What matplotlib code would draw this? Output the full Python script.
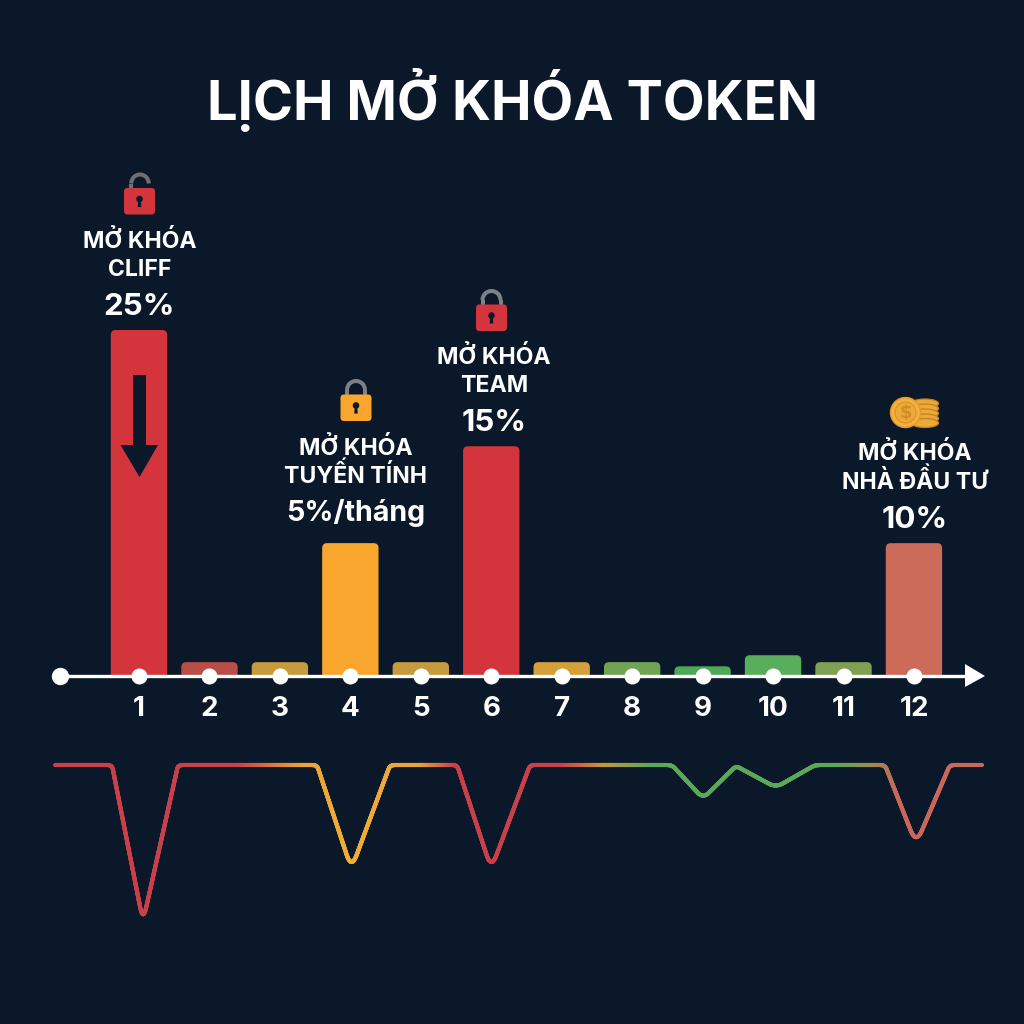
import numpy as np
import matplotlib
matplotlib.use("Agg")
import matplotlib.pyplot as plt
from matplotlib.collections import LineCollection
from matplotlib.colors import to_rgb
from matplotlib.patches import Circle, Ellipse, FancyBboxPatch, PathPatch, Polygon, Arc
from matplotlib.path import Path

FONT = ["Inter", "Noto Sans", "DejaVu Sans"]
plt.rcParams["font.family"] = FONT

# ---------- data ----------
months = list(range(1, 13))
month_labels = [str(m) for m in months]
bar_heights = [25.0, 1.0, 1.0, 9.6, 1.0, 16.6, 1.0, 1.0, 0.7, 1.5, 1.0, 9.6]
bar_colors = ["#D4353C", "#B94E49", "#C69B3D", "#F9A62E", "#C69B3D", "#D4353C",
              "#D3A03A", "#6FA453", "#4EA858", "#58AE5B", "#7F9F52", "#CC6B59"]

line_months = [-0.19, 0.617, 1.057, 1.554, 3.527, 4.015, 4.563, 5.515, 6.0, 6.55,
               8.566, 9.006, 9.474, 10.04, 10.595, 11.589, 12.03, 12.51, 12.966]
line_vals = [6.44, 6.44, 17.75, 6.44, 6.44, 13.95, 6.44, 6.44, 13.95, 6.44,
             6.44, 8.85, 6.5, 8.05, 6.44, 6.44, 12.15, 6.44, 6.44]
grad_months = [-0.19, 2.4, 3.3, 4.0, 5.0, 5.5, 7.0, 7.6, 8.3, 10.9, 11.45, 11.75, 13.0]
grad_colors = ["#C8414A", "#C8414A", "#E8A23A", "#F0AE38", "#E8A23A", "#C8414A",
               "#C8414A", "#C8963C", "#5BA858", "#5BA858", "#A08A50", "#C8675A", "#C8675A"]

title = "LỊCH MỞ KHÓA TOKEN"
callouts = [
    (139.5, ["MỞ KHÓA", "CLIFF"], "25%", 248, 276, 315, 22.5),
    (356, ["MỞ KHÓA", "TUYẾN TÍNH"], "5%/tháng", 455, 483, 521, 20.6),
    (494, ["MỞ KHÓA", "TEAM"], "15%", 364, 392, 431, 22.5),
    (914.5, ["MỞ KHÓA", "NHÀ ĐẦU TƯ"], "10%", 460, 489, 528, 22.5),
]

BG = "#0A182A"
PX_PER_MONTH = 70.45
PX_PER_UNIT = 13.84


def rounded_top(x, w, h, rx=0.07, ry=0.36):
    ry = min(ry, h)
    l, r = x - w / 2, x + w / 2
    verts = [(l, 0), (l, h - ry), (l, h), (l + rx, h), (r - rx, h), (r, h), (r, h - ry), (r, 0), (l, 0)]
    codes = [Path.MOVETO, Path.LINETO, Path.CURVE3, Path.CURVE3, Path.LINETO,
             Path.CURVE3, Path.CURVE3, Path.LINETO, Path.CLOSEPOLY]
    return Path(verts, codes)


def rounded_polyline(xs, ys):
    """Round each corner of the polyline with a quadratic curve (working in pixels)."""
    P = np.column_stack([np.array(xs) * PX_PER_MONTH, np.array(ys) * PX_PER_UNIT])
    out = [P[0]]
    for i in range(1, len(P) - 1):
        a, b, c = P[i - 1], P[i], P[i + 1]
        is_dip = b[1] < a[1] and b[1] < c[1]
        depth = min(a[1] - b[1], c[1] - b[1]) if is_dip else 0
        d = 15 if depth > 40 else (8 if depth > 5 else 4)
        u = (a - b) / np.linalg.norm(a - b)
        v = (c - b) / np.linalg.norm(c - b)
        s, e = b + u * d, b + v * d
        for t in np.linspace(0, 1, 16):
            out.append((1 - t) ** 2 * s + 2 * t * (1 - t) * b + t ** 2 * e)
    out.append(P[-1])
    out = np.array(out)
    return out[:, 0] / PX_PER_MONTH, out[:, 1] / PX_PER_UNIT


fig = plt.figure(figsize=(10.24, 10.24), dpi=100, facecolor=BG)
ax = fig.add_axes([0, 0, 1, 1], facecolor=BG)
ax.set_xlim(1 - 139 / PX_PER_MONTH, 1 + 885 / PX_PER_MONTH)
ax.set_ylim(-348 / PX_PER_UNIT, 676 / PX_PER_UNIT)

for m, h, c in zip(months, bar_heights, bar_colors):
    ax.add_patch(PathPatch(rounded_top(m, 0.8, h), facecolor=c, edgecolor="none", zorder=2))

# lower gradient line: values plotted downward from the axis
lx, ly = rounded_polyline(line_months, -np.array(line_vals, float))
seg_t = np.concatenate([[0], np.cumsum(np.hypot(np.diff(lx) * PX_PER_MONTH, np.diff(ly) * PX_PER_UNIT))])
t = np.linspace(0, seg_t[-1], 3000)
fx, fy = np.interp(t, seg_t, lx), np.interp(t, seg_t, ly)
rgb = np.array([to_rgb(c) for c in grad_colors])
cols = np.column_stack([np.interp(fx, grad_months, rgb[:, i]) for i in range(3)])
pts = np.column_stack([fx, fy]).reshape(-1, 1, 2)
ax.add_collection(LineCollection(np.concatenate([pts[:-1], pts[1:]], axis=1), colors=cols[:-1],
                                 linewidths=3.0, capstyle="round", joinstyle="round", zorder=2))

# axis
for s in ["top", "left", "right"]:
    ax.spines[s].set_visible(False)
ax.spines["bottom"].set_position(("data", 0))
ax.spines["bottom"].set_color("white")
ax.spines["bottom"].set_linewidth(2.4)
ax.spines["bottom"].set_bounds(1 + (60 - 139) / PX_PER_MONTH, 1 + (970 - 139) / PX_PER_MONTH)
ax.spines["bottom"].set_zorder(3)
ax.set_yticks([])
ax.set_xticks(months, month_labels)
ax.tick_params(axis="x", length=0, pad=14.5, labelcolor="white", labelsize=20)
for lab in ax.get_xticklabels():
    lab.set_fontweight("bold")
ax.plot(months, [0] * 12, "o", color="white", ms=11.5, mec="none", zorder=4, clip_on=False)
ax.plot([1 + (60 - 139) / PX_PER_MONTH], [0], "o", color="white", ms=12.5, mec="none", zorder=4)

# overlay in pixel coordinates for title, notes and icons
ov = fig.add_axes([0, 0, 1, 1], facecolor="none")
ov.set_xlim(0, 1024)
ov.set_ylim(1024, 0)
ov.axis("off")
ov.add_patch(Polygon([(965, 664), (985, 676), (965, 687)], fc="white", ec="none"))
ov.text(512.5, 120, title, color="white", ha="center", va="baseline", fontsize=39, fontweight="bold")
for cx, lines, pct, y1, y2, y3, pct_size in callouts:
    ov.text(cx, y1, lines[0], color="white", ha="center", va="baseline", fontsize=16.6, fontweight="bold")
    ov.text(cx, y2, lines[1], color="white", ha="center", va="baseline", fontsize=16.6, fontweight="bold")
    ov.text(cx, y3, pct, color="white", ha="center", va="baseline", fontsize=pct_size, fontweight="bold")

# arrow in the first bar
ov.add_patch(Polygon([(133, 375), (146, 375), (146, 445), (158, 445), (139.5, 477), (120.5, 445), (133, 445)],
                     fc=BG, ec="none"))


def lock(cx, top, body, shackle, opened=False):
    w, h = 31, 26.5
    y0 = top + 15
    lw = 2.9
    if opened:
        ov.add_patch(Arc((cx + 0.5, y0 - 4.5), 17.5, 18, theta1=180, theta2=360, ec=shackle, lw=lw))
        ov.plot([cx - 8.25, cx - 8.25], [y0 - 4.5, y0 + 2], color=shackle, lw=lw, solid_capstyle="butt")
    else:
        ov.add_patch(Arc((cx, y0 - 4.5), 18, 18, theta1=180, theta2=360, ec=shackle, lw=lw))
        for sx in (-9, 9):
            ov.plot([cx + sx, cx + sx], [y0 - 4.5, y0 + 2], color=shackle, lw=lw, solid_capstyle="butt")
    ov.add_patch(FancyBboxPatch((cx - w / 2 + 3, y0 + 3), w - 6, h - 6, boxstyle="round,pad=3,rounding_size=3.5",
                                fc=body, ec="none", zorder=3))
    ov.add_patch(Circle((cx, y0 + 11), 3.3, fc=BG, ec="none", zorder=4))
    ov.add_patch(Polygon([(cx - 1.2, y0 + 12), (cx + 1.2, y0 + 12), (cx + 1.8, y0 + 19), (cx - 1.8, y0 + 19)],
                         fc=BG, ec="none", zorder=4))


lock(139.5, 173, "#D4353C", "#6E7075", opened=True)
lock(356, 379.5, "#F9A62E", "#7E8085")
lock(491.5, 289.5, "#D4353C", "#7E8085")

# coins
for y in (403.5, 408.5, 413.5, 418.5, 423):
    ov.add_patch(Ellipse((925, y), 27, 9, fc="#EEA836", ec="#BD8426", lw=0.9, zorder=2))
ov.add_patch(Circle((905.5, 412.5), 15, fc="#F3B03C", ec="#E39A2B", lw=1.0, zorder=3))
ov.add_patch(Circle((905.5, 412.5), 10.5, fc="#EDA836", ec="#D8932A", lw=0.8, zorder=3))
ov.text(905.5, 412.5, "$", color="#D08E28", ha="center", va="center", fontsize=13, fontweight="bold",
        family="DejaVu Sans", zorder=4)

fig.savefig("out.png", dpi=100, facecolor=BG)
